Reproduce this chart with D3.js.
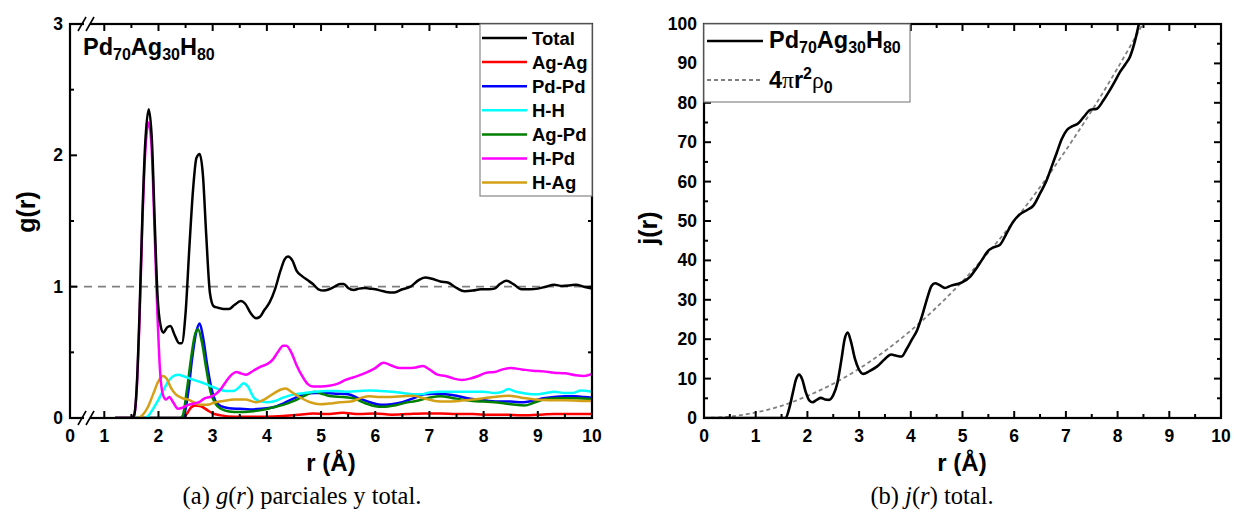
<!DOCTYPE html>
<html><head><meta charset="utf-8">
<script src="https://cdn.jsdelivr.net/npm/d3@7"></script>
<style>
body{margin:0;background:#fff;}
text{font-family:"Liberation Sans",Arial,sans-serif;font-weight:bold;fill:#000;}
.cap{font-family:"Liberation Serif","DejaVu Serif",serif;font-weight:normal;}
</style></head><body>
<svg id="c" width="1234" height="517"></svg>
<script>
// ---------- data ----------
const xTicks = [0,1,2,3,4,5,6,7,8,9,10];
const gTicks = [0,1,2,3];
const jTicks = [0,10,20,30,40,50,60,70,80,90,100];
const seriesNames = ["Total","Ag-Ag","Pd-Pd","H-H","Ag-Pd","H-Pd","H-Ag"];
const seriesColors = ["#000000","#ff0000","#0000ff","#00ffff","#008000","#ff00ff","#d4a017"];

const gTotal = [[1.2,0],[1.5,0],[1.55,0.02],[1.6,0.25],[1.65,0.8],[1.7,1.5],[1.75,2.05],[1.82,2.35],[1.88,2.1],[1.93,1.5],[1.98,0.95],[2.04,0.7],[2.09,0.65],[2.16,0.69],[2.22,0.70],[2.3,0.63],[2.38,0.57],[2.43,0.57],[2.5,0.8],[2.57,1.3],[2.64,1.75],[2.7,1.98],[2.76,2.01],[2.82,1.85],[2.88,1.4],[2.95,0.95],[3.02,0.85],[3.1,0.84],[3.2,0.83],[3.3,0.83],[3.4,0.86],[3.52,0.89],[3.6,0.87],[3.7,0.8],[3.8,0.76],[3.87,0.77],[3.95,0.82],[4.05,0.88],[4.15,0.98],[4.25,1.12],[4.33,1.21],[4.39,1.23],[4.47,1.2],[4.55,1.12],[4.65,1.08],[4.75,1.05],[4.85,1.02],[4.95,0.98],[5.05,0.97],[5.15,0.98],[5.25,1.0],[5.35,1.02],[5.42,1.02],[5.5,0.99],[5.6,0.975],[5.7,0.985],[5.8,0.99],[5.9,0.985],[6.0,0.98],[6.1,0.97],[6.2,0.96],[6.35,0.955],[6.5,0.98],[6.65,1.0],[6.8,1.05],[6.92,1.07],[7.05,1.06],[7.2,1.04],[7.35,1.03],[7.5,0.99],[7.65,0.965],[7.8,0.97],[7.95,0.98],[8.1,0.98],[8.2,0.985],[8.3,1.02],[8.42,1.045],[8.55,1.02],[8.7,0.98],[8.85,0.98],[9.0,0.985],[9.15,1.0],[9.3,1.015],[9.45,1.005],[9.6,1.01],[9.7,1.015],[9.85,1.0],[10,0.985]];
const gAgAg = [[1.2,0],[2.45,0],[2.52,0.03],[2.6,0.08],[2.68,0.095],[2.78,0.09],[2.9,0.06],[3.0,0.035],[3.15,0.02],[3.4,0.01],[3.7,0.01],[4.0,0.01],[4.3,0.015],[4.6,0.025],[4.85,0.035],[5.1,0.03],[5.4,0.04],[5.7,0.03],[6.0,0.035],[6.3,0.025],[6.6,0.03],[6.9,0.035],[7.2,0.035],[7.5,0.03],[7.8,0.03],[8.1,0.025],[8.4,0.025],[8.7,0.02],[9.0,0.025],[9.3,0.03],[9.6,0.03],[10,0.03]];
const gPdPd = [[1.2,0],[2.42,0],[2.47,0.02],[2.55,0.2],[2.62,0.45],[2.7,0.66],[2.76,0.72],[2.82,0.62],[2.9,0.4],[2.98,0.22],[3.05,0.13],[3.15,0.09],[3.3,0.075],[3.5,0.07],[3.7,0.065],[3.9,0.07],[4.1,0.08],[4.3,0.11],[4.5,0.15],[4.7,0.18],[4.9,0.19],[5.1,0.19],[5.3,0.185],[5.5,0.18],[5.7,0.15],[5.9,0.12],[6.1,0.1],[6.3,0.105],[6.5,0.12],[6.7,0.15],[6.9,0.18],[7.1,0.185],[7.3,0.18],[7.5,0.17],[7.7,0.15],[7.9,0.14],[8.1,0.13],[8.3,0.125],[8.5,0.125],[8.7,0.12],[8.9,0.13],[9.1,0.15],[9.3,0.16],[9.5,0.165],[9.7,0.165],[9.85,0.16],[10,0.155]];
const gHH = [[1.2,0],[1.75,0],[1.82,0.02],[1.9,0.07],[2.0,0.14],[2.1,0.22],[2.2,0.29],[2.3,0.325],[2.37,0.33],[2.45,0.32],[2.55,0.305],[2.65,0.29],[2.8,0.27],[2.95,0.245],[3.1,0.22],[3.25,0.205],[3.38,0.205],[3.48,0.23],[3.57,0.265],[3.65,0.24],[3.75,0.16],[3.85,0.13],[4.0,0.12],[4.15,0.13],[4.3,0.155],[4.5,0.18],[4.7,0.19],[4.9,0.2],[5.1,0.205],[5.3,0.205],[5.5,0.2],[5.7,0.205],[5.9,0.21],[6.1,0.205],[6.3,0.2],[6.5,0.19],[6.7,0.18],[6.85,0.18],[7.0,0.195],[7.2,0.2],[7.5,0.2],[7.8,0.2],[8.0,0.2],[8.2,0.19],[8.35,0.2],[8.45,0.22],[8.6,0.2],[8.8,0.185],[8.95,0.18],[9.15,0.19],[9.3,0.2],[9.5,0.19],[9.65,0.19],[9.8,0.21],[10,0.2]];
const gAgPd = [[1.2,0],[2.4,0],[2.45,0.02],[2.52,0.2],[2.6,0.45],[2.67,0.63],[2.73,0.675],[2.8,0.58],[2.88,0.38],[2.96,0.2],[3.05,0.11],[3.15,0.07],[3.3,0.05],[3.5,0.045],[3.7,0.05],[3.9,0.06],[4.1,0.08],[4.3,0.1],[4.5,0.13],[4.7,0.17],[4.88,0.2],[5.05,0.18],[5.2,0.165],[5.4,0.16],[5.6,0.15],[5.8,0.115],[6.0,0.09],[6.15,0.085],[6.35,0.095],[6.55,0.115],[6.75,0.13],[7.0,0.155],[7.2,0.165],[7.4,0.155],[7.6,0.14],[7.8,0.13],[8.0,0.125],[8.2,0.12],[8.4,0.11],[8.6,0.1],[8.75,0.095],[8.95,0.12],[9.15,0.145],[9.4,0.15],[9.7,0.15],[10,0.145]];
const gHPd = [[1.2,0],[1.5,0],[1.55,0.02],[1.6,0.23],[1.65,0.75],[1.7,1.45],[1.75,1.98],[1.82,2.25],[1.88,2.0],[1.93,1.4],[1.98,0.8],[2.03,0.35],[2.08,0.18],[2.14,0.14],[2.2,0.16],[2.27,0.12],[2.36,0.07],[2.45,0.08],[2.55,0.1],[2.65,0.11],[2.75,0.12],[2.85,0.15],[2.95,0.16],[3.05,0.18],[3.15,0.22],[3.25,0.28],[3.35,0.33],[3.44,0.35],[3.52,0.34],[3.62,0.33],[3.75,0.36],[3.88,0.39],[4.0,0.41],[4.1,0.44],[4.2,0.5],[4.3,0.55],[4.36,0.55],[4.45,0.5],[4.55,0.4],[4.65,0.32],[4.75,0.26],[4.85,0.24],[5.0,0.24],[5.15,0.245],[5.3,0.26],[5.45,0.29],[5.6,0.31],[5.8,0.34],[6.0,0.38],[6.15,0.42],[6.3,0.4],[6.45,0.38],[6.6,0.38],[6.75,0.385],[6.88,0.395],[7.0,0.37],[7.15,0.33],[7.3,0.32],[7.45,0.3],[7.6,0.29],[7.75,0.3],[7.9,0.32],[8.05,0.345],[8.2,0.35],[8.35,0.37],[8.5,0.38],[8.7,0.37],[8.9,0.36],[9.1,0.355],[9.3,0.345],[9.5,0.34],[9.7,0.325],[9.85,0.32],[10,0.335]];
const gHAg = [[1.2,0],[1.62,0],[1.7,0.02],[1.8,0.08],[1.9,0.18],[2.0,0.28],[2.08,0.32],[2.15,0.3],[2.23,0.23],[2.32,0.18],[2.45,0.15],[2.55,0.14],[2.65,0.12],[2.78,0.1],[2.9,0.1],[3.05,0.12],[3.2,0.13],[3.4,0.14],[3.6,0.14],[3.8,0.12],[3.95,0.14],[4.1,0.18],[4.25,0.215],[4.35,0.225],[4.45,0.2],[4.6,0.16],[4.8,0.12],[4.98,0.105],[5.15,0.11],[5.35,0.12],[5.55,0.125],[5.75,0.155],[5.9,0.165],[6.1,0.16],[6.3,0.16],[6.5,0.165],[6.7,0.17],[6.9,0.15],[7.1,0.13],[7.3,0.125],[7.55,0.13],[7.8,0.14],[8.0,0.15],[8.2,0.16],[8.45,0.17],[8.7,0.155],[8.95,0.14],[9.2,0.135],[9.5,0.135],[9.8,0.13],[10,0.13]];

const jTotal = [[0,0],[1.5,0],[1.58,0],[1.65,2.5],[1.72,6.5],[1.78,9.8],[1.84,11.0],[1.9,9.8],[1.97,6.5],[2.04,4.4],[2.1,4.0],[2.18,4.6],[2.26,5.1],[2.34,4.7],[2.42,4.6],[2.5,5.8],[2.58,8.9],[2.66,15],[2.72,20],[2.78,21.7],[2.84,19.5],[2.92,15],[2.99,12.5],[3.08,11.2],[3.2,11.9],[3.35,13.1],[3.5,15],[3.62,16.1],[3.72,15.8],[3.82,15.6],[3.92,17.5],[4.02,19.9],[4.12,22.2],[4.22,26],[4.32,30.5],[4.4,33.5],[4.47,34.2],[4.55,33.8],[4.66,33.0],[4.78,33.6],[4.9,34.0],[5.0,34.5],[5.15,35.9],[5.27,38],[5.38,40.2],[5.5,42.5],[5.6,43.3],[5.72,43.9],[5.85,46.8],[5.98,49.8],[6.1,51.6],[6.25,52.8],[6.37,53.9],[6.5,57],[6.63,60.4],[6.73,64],[6.82,67.2],[6.92,70.8],[7.02,73.1],[7.12,74.0],[7.24,74.8],[7.35,76.5],[7.47,78.2],[7.6,78.5],[7.72,80.5],[7.85,83.2],[7.95,85.5],[8.05,87.9],[8.15,89.8],[8.24,91.7],[8.3,94],[8.36,97],[8.42,100.5]];
const jRef = [[0,0],[0.5,0.35],[1,1.4],[1.5,3.1],[2,5.6],[2.5,8.7],[3,12.5],[3.5,17],[4,22.2],[4.5,28.1],[5,34.7],[5.5,42],[6,50],[6.5,58.6],[7,68],[7.5,78],[8,88.8],[8.5,100.3]];

const gSeries = [gTotal,gAgAg,gPdPd,gHH,gAgPd,gHPd,gHAg];

// ---------- drawing ----------
const svg = d3.select("#c");
const T = 24, B = 418;
const TICKFS = 17.5;

function frame(x, y, x0, x1, xMinor, yMinor, yTickVals, breakX) {
  const g = svg.append("g");
  const ln = (a,b,c,d) => g.append("line").attr("x1",a).attr("y1",b).attr("x2",c).attr("y2",d).attr("stroke","#000").attr("stroke-width",2);
  xTicks.forEach(v => {
    ln(x(v),B,x(v),B-7); ln(x(v),T,x(v),T+7);
    g.append("text").attr("x",x(v)).attr("y",442).attr("text-anchor","middle").attr("font-size",TICKFS).text(v);
  });
  xMinor.forEach(v => { ln(x(v),B,x(v),B-4); ln(x(v),T,x(v),T+4); });
  yTickVals.forEach(v => {
    ln(x0,y(v),x0+7,y(v)); ln(x1,y(v),x1-7,y(v));
    g.append("text").attr("x",x0-7).attr("y",y(v)+6).attr("text-anchor","end").attr("font-size",TICKFS).text(v);
  });
  yMinor.forEach(v => { ln(x0,y(v),x0+4,y(v)); ln(x1,y(v),x1-4,y(v)); });
  g.append("rect").attr("x",x0).attr("y",T).attr("width",x1-x0).attr("height",B-T)
    .attr("fill","none").attr("stroke","#000").attr("stroke-width",2.2);
  if (breakX) {
    [T,B].forEach(yy => {
      g.append("rect").attr("x",breakX-3).attr("y",yy-3).attr("width",6).attr("height",6).attr("fill","#fff");
      [-5,3].forEach(d => g.append("line").attr("x1",breakX+d-4).attr("y1",yy+7).attr("x2",breakX+d+4).attr("y2",yy-7)
        .attr("stroke","#000").attr("stroke-width",1.6));
    });
  }
  return g;
}

function formula(sel, x, y, fs, sfs) {
  const t = sel.append("text").attr("x",x).attr("y",y).attr("font-size",fs);
  [["Pd","70"],["Ag","30"],["H","80"]].forEach(([a,b]) => {
    t.append("tspan").attr("dy", a==="Pd"?0:-5).text(a);
    t.append("tspan").attr("font-size",sfs).attr("dy",5).text(b);
  });
  return t;
}

// ----- left panel -----
const xL = d3.scaleLinear().domain([0,1,10]).range([70,104.3,592]);
const yL = d3.scaleLinear().domain([0,3]).range([B,T]);
const defs = svg.append("defs");
defs.append("clipPath").attr("id","clipL").append("rect").attr("x",70).attr("y",T).attr("width",522).attr("height",B-T);
defs.append("clipPath").attr("id","clipR").append("rect").attr("x",704).attr("y",T).attr("width",517).attr("height",B-T);

const pL = svg.append("g").attr("clip-path","url(#clipL)");
pL.append("line").attr("x1",xL(0)).attr("x2",xL(10)).attr("y1",yL(1)).attr("y2",yL(1))
  .attr("stroke","#808080").attr("stroke-width",1.6).attr("stroke-dasharray","8,6");
const lineL = d3.line().x(d=>xL(d[0])).y(d=>yL(d[1])).curve(d3.curveMonotoneX);
const order = [1,2,4,3,6,5,0];
order.forEach(i => {
  pL.append("path").attr("d",lineL(gSeries[i])).attr("fill","none")
    .attr("stroke",seriesColors[i]).attr("stroke-width",2.5).attr("stroke-linejoin","round");
});
frame(xL, yL, 70, 592, [1.5,2.5,3.5,4.5,5.5,6.5,7.5,8.5,9.5], [0.5,1.5,2.5], gTicks, 87);

formula(svg, 83, 55, 23.5, 16);

// legend left
const lg = svg.append("g");
lg.append("rect").attr("x",480).attr("y",T).attr("width",112).attr("height",172).attr("fill","#fff").attr("stroke","#888").attr("stroke-width",1.2);
seriesNames.forEach((n,i) => {
  const yy = 38 + i*24.1;
  lg.append("line").attr("x1",482).attr("x2",527).attr("y1",yy).attr("y2",yy).attr("stroke",seriesColors[i]).attr("stroke-width",2.5);
  lg.append("text").attr("x",532).attr("y",yy+6.5).attr("font-size",18.5).text(n);
});

svg.append("text").attr("transform","translate(35,212) rotate(-90)").attr("text-anchor","middle").attr("font-size",25).text("g(r)");
svg.append("text").attr("x",331).attr("y",471).attr("text-anchor","middle").attr("font-size",24).text("r (Å)");
const capA = svg.append("text").attr("class","cap").attr("x",302).attr("y",504).attr("font-size",24.5).attr("text-anchor","middle");
capA.append("tspan").text("(a) ");
capA.append("tspan").attr("font-style","italic").text("g");
capA.append("tspan").text("(");
capA.append("tspan").attr("font-style","italic").text("r");
capA.append("tspan").text(") parciales y total.");

// ----- right panel -----
const xR = d3.scaleLinear().domain([0,10]).range([704,1221]);
const yR = d3.scaleLinear().domain([0,100]).range([B,T]);
const pR = svg.append("g").attr("clip-path","url(#clipR)");
const lineR = d3.line().x(d=>xR(d[0])).y(d=>yR(d[1])).curve(d3.curveMonotoneX);
const lineRef = d3.line().x(d=>xR(d[0])).y(d=>yR(d[1])).curve(d3.curveCatmullRom);
pR.append("path").attr("d",lineRef(jRef)).attr("fill","none").attr("stroke","#808080").attr("stroke-width",1.8).attr("stroke-dasharray","4,3");
pR.append("path").attr("d",lineR(jTotal)).attr("fill","none").attr("stroke","#000").attr("stroke-width",2.6).attr("stroke-linejoin","round");
frame(xR, yR, 704, 1221, [0.5,1.5,2.5,3.5,4.5,5.5,6.5,7.5,8.5,9.5], [5,15,25,35,45,55,65,75,85,95], jTicks, null);

const lgR = svg.append("g");
lgR.append("rect").attr("x",704).attr("y",T).attr("width",206).attr("height",78).attr("fill","#fff").attr("stroke","#888").attr("stroke-width",1.2);
lgR.append("line").attr("x1",707).attr("x2",763).attr("y1",41).attr("y2",41).attr("stroke","#000").attr("stroke-width",2.6);
lgR.append("line").attr("x1",707).attr("x2",763).attr("y1",80).attr("y2",80).attr("stroke","#808080").attr("stroke-width",1.8).attr("stroke-dasharray","4,3");
formula(lgR, 769, 48, 23.5, 16);
const l2 = lgR.append("text").attr("x",769).attr("y",88).attr("font-size",23.5);
l2.append("tspan").text("4");
l2.append("tspan").attr("font-family","'Liberation Serif',serif").attr("font-weight","normal").text("π");
l2.append("tspan").text("r");
l2.append("tspan").attr("font-size",16).attr("dy",-9).text("2");
l2.append("tspan").attr("dy",9).attr("font-family","'Liberation Serif',serif").attr("font-weight","normal").text("ρ");
l2.append("tspan").attr("font-size",16).attr("dy",5).text("0");

svg.append("text").attr("transform","translate(657,228) rotate(-90)").attr("text-anchor","middle").attr("font-size",25).text("j(r)");
svg.append("text").attr("x",962).attr("y",471).attr("text-anchor","middle").attr("font-size",24).text("r (Å)");
const capB = svg.append("text").attr("class","cap").attr("x",932).attr("y",504).attr("font-size",24.5).attr("text-anchor","middle");
capB.append("tspan").text("(b) ");
capB.append("tspan").attr("font-style","italic").text("j");
capB.append("tspan").text("(");
capB.append("tspan").attr("font-style","italic").text("r");
capB.append("tspan").text(") total.");
</script>
</body></html>
